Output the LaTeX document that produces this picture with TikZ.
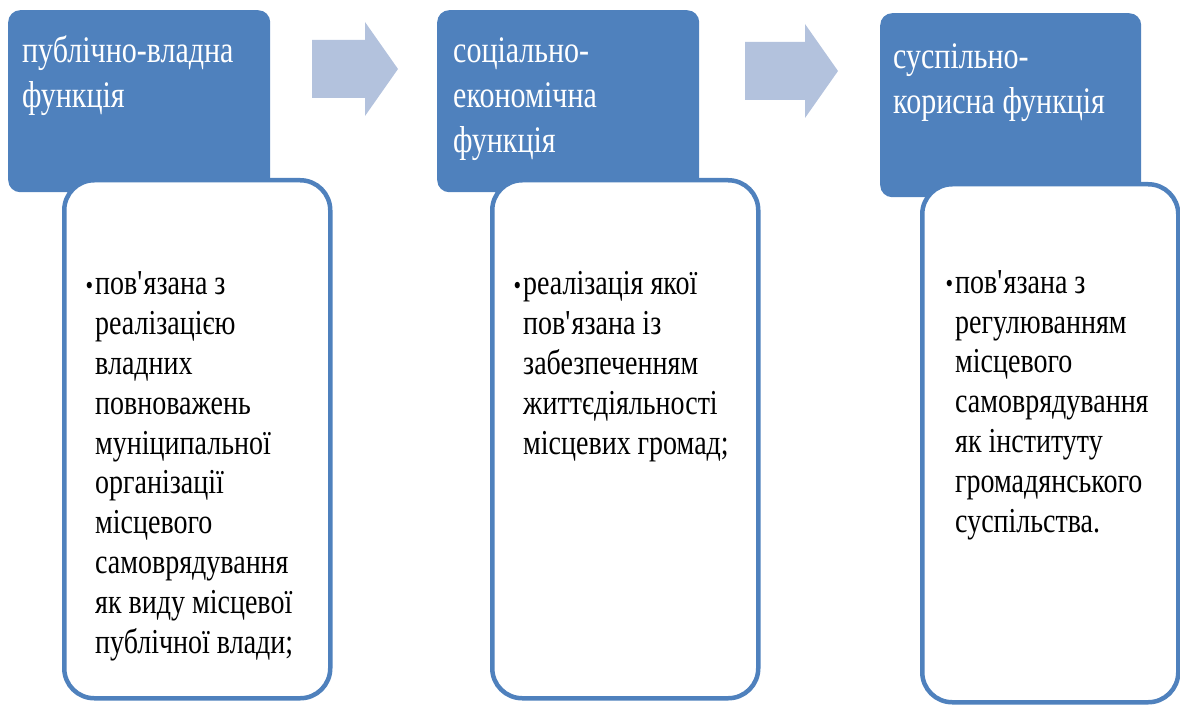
\documentclass[tikz,border=0pt]{standalone}
\usepackage{fontspec}
\setmainfont{Liberation Serif}[FakeStretch=0.8]
\definecolor{headblue}{HTML}{4F81BD}
\definecolor{arrowblue}{HTML}{B3C2DD}
\tikzset{
  headbox/.style={fill=headblue, rounded corners=12pt, inner sep=0pt, anchor=north west},
  cardbox/.style={draw=headblue, fill=white, line width=4.5pt, rounded corners=30pt, inner sep=0pt, anchor=north west},
  headtext/.style={anchor=base west, inner sep=0pt, align=left, text=white, font=\fontsize{37.5}{45}\selectfont},
  cardtext/.style={anchor=base west, inner sep=0pt, align=left, font=\fontsize{35}{39.8}\selectfont},
  flowarrow/.style={fill=arrowblue}
}
\newcommand{\blt}{\llap{\raisebox{0.5pt}{\fontsize{27}{27}\selectfont\textbullet}\hspace{2pt}}}
\begin{document}
\begin{tikzpicture}[x=1pt, y=-1pt]
	\useasboundingbox (0,0) rectangle (1180,711);
	% header boxes
	\node[headbox, minimum width=262pt, minimum height=182pt] (head1) at (8,10)   {};
	\node[headbox, minimum width=262pt, minimum height=182pt] (head2) at (437,10) {};
	\node[headbox, minimum width=261pt, minimum height=184pt] (head3) at (880,13) {};
	% cards on top
	\node[cardbox, minimum width=266pt, minimum height=518pt] (card1) at (62,178)  {};
	\node[cardbox, minimum width=266pt, minimum height=518pt] (card2) at (490,178) {};
	\node[cardbox, minimum width=256pt, minimum height=518pt] (card3) at (920,182) {};
	% arrows
	\fill[flowarrow] (312,40) -- ++(53,0) -- ++(0,-18) -- ++(33,47) -- ++(-33,47) -- ++(0,-18) -- ++(-53,0) -- cycle;
	\fill[flowarrow] (745,42) -- ++(60,0) -- ++(0,-18) -- ++(33,47) -- ++(-33,47) -- ++(0,-18) -- ++(-60,0) -- cycle;
	% header texts (base = last line)
	\node[headtext] (title1) at (22,108)  {публічно-владна\\функція};
	\node[headtext] (title2) at (453,153) {соціально-\\економічна\\функція};
	\node[headtext] (title3) at (893,114) {суспільно-\\корисна функція};
	% card texts (base = last line)
	\node[cardtext] (text1) at (95,653) {\blt пов\textquotesingle язана з\\реалізацією\\владних\\повноважень\\муніципальної\\організації\\місцевого\\самоврядування\\як виду місцевої\\публічної влади;};
	\node[cardtext] (text2) at (523,454) {\blt реалізація якої\\пов\textquotesingle язана із\\забезпеченням\\життєдіяльності\\місцевих громад;};
	\node[cardtext] (text3) at (955,532) {\blt пов\textquotesingle язана з\\регулюванням\\місцевого\\самоврядування\\як інституту\\громадянського\\суспільства.};
\end{tikzpicture}
\end{document}
